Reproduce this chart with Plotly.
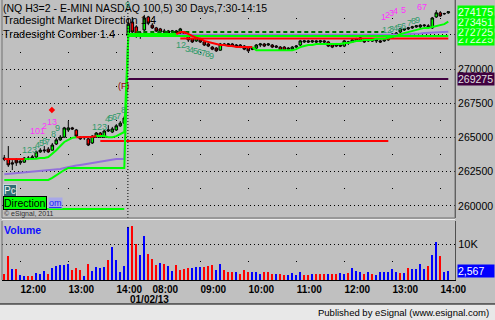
import plotly.graph_objects as go

# ---------------- data ----------------
day1_start, day1_bars = (11, 40), 31
day2_start, day2_bars = (7, 30), 81

def session(start, n):
    h, m = start
    out = []
    for k in range(n):
        t = h * 60 + m + 5 * k
        out.append("%02d:%02d" % (t // 60, t % 60))
    return out

times = session(day1_start, day1_bars) + session(day2_start, day2_bars)
idx = list(range(len(times)))
hour_idx = [i for i, t in enumerate(times) if t.endswith(":00")]
hour_lbl = [times[i] for i in hour_idx]
date2_label = "01/02/13"

opens = [263500,263425,263150,263350,263150,263200,263500,263500,263575,263950,
         264025,264150,264075,264525,264825,265025,265550,265700,265550,265025,
         264975,264900,264600,265025,265325,265025,265475,265400,265550,265850,
         266050,
         272400,273425,273075,272625,272850,273800,273200,273000,272925,272775,
         272775,272700,272775,272625,272700,272475,272200,272050,272200,271975,
         271825,271600,271525,271375,271825,271750,271825,271750,271750,271675,
         271600,271525,271525,271750,271825,271750,271750,271675,271600,271600,
         271525,271450,271600,271750,271975,272050,271975,272050,271975,272050,
         271975,271825,271825,271750,271675,271900,271975,272050,272050,272125,
         272050,272125,272050,272050,272050,272125,272325,272475,272700,272850,
         272925,273000,273075,273075,273150,273150,273000,273800,274100,274025,
         274100]
highs = [263725,264375,263350,263500,263425,263575,263650,263725,264025,264225,
         264375,264300,264600,264975,265175,265775,266200,265775,265625,265100,
         265100,264975,265175,265400,265400,265550,265900,265775,265975,266200,
         266575,
         273725,273800,273200,272775,273950,273875,273350,273075,273000,272925,
         272850,272850,272850,273000,272775,272550,272275,272325,272275,272050,
         271900,271675,271600,271900,271900,271900,271900,271825,271825,271750,
         271675,271600,271825,271900,271900,271900,271825,271750,271675,271675,
         271600,271675,271750,272125,272125,272125,272125,272125,272125,272125,
         272050,271900,271900,271900,272125,272050,272200,272275,272325,272200,
         272200,272200,272200,272125,272200,272400,272625,272700,273000,273000,
         273075,273150,273200,273275,273275,273275,273800,274300,274225,274100,
         274175]
lows = [263275,262850,262625,262925,263000,263150,263350,263425,263500,263875,
        263875,263875,264025,264450,264750,264975,265400,265550,265025,264825,
        264825,264375,264525,264975,264975,264975,265400,265325,265475,265775,
        265975,
        272125,272625,272275,272200,272775,273200,272925,272700,272625,272625,
        272550,272550,272475,272550,272325,271975,271900,271975,271900,271675,
        271600,271375,271250,271325,271675,271675,271600,271600,271525,271375,
        271250,271375,271450,271600,271600,271675,271525,271525,271325,271325,
        271375,271375,271525,271675,271900,271900,271900,271900,271900,271900,
        271600,271525,271600,271600,271600,271750,271900,271975,271975,271900,
        271975,271975,271900,271900,271975,272050,272275,272400,272625,272775,
        272850,272925,273000,273000,273075,273000,272925,273725,273800,273950,
        274025]
closes = [263425,263000,263075,263150,263275,263500,263475,263575,263950,264075,
          264075,263950,264450,264825,265025,265700,265700,265625,265100,264900,
          265025,264450,265100,265325,265025,265475,265550,265625,265850,266050,
          266425,
          273275,272700,272475,272400,273725,273350,273000,272775,272700,272700,
          272625,272775,272625,272925,272400,272125,271975,272275,271975,271750,
          271675,271450,271325,271825,271750,271825,271675,271675,271600,271450,
          271325,271450,271750,271825,271675,271825,271600,271600,271375,271375,
          271450,271600,271675,272050,272050,271975,272050,271975,272050,271975,
          271675,271600,271675,271675,272050,271975,272125,272200,272275,271975,
          272125,272050,272125,271975,272125,272325,272550,272625,272925,272925,
          273000,273075,273150,273200,273200,273075,273725,274100,273875,274050,
          274175]

volume = [1580,6760,3060,3060,1390,1200,1020,1110,1950,1670,
          2500,1670,3250,3890,4080,4080,4360,2870,3430,2870,
          1200,4450,2500,3520,3430,3520,5650,9170,5470,2130,
          3890,
          14740,15010,9920,6950,12140,7140,5930,4170,4730,4540,
          3800,2590,4080,2690,2960,3240,3430,3520,3610,3520,
          3800,4080,2870,4540,2780,2320,2130,2130,1670,2870,
          2320,2130,2130,1580,2320,2320,1580,1580,1580,1390,
          1300,1950,1390,2130,1300,1300,1580,1760,1670,1670,
          1670,1580,1760,1860,1670,1950,3430,2500,2320,1760,
          2320,1580,1390,2130,2320,2220,3060,2220,2040,1950,
          3430,3060,3060,4360,3060,3800,6950,10660,6760,2130,
          2567]
vol_dir = ("rrbrbbrrbb" "brbbbbbrrr" "brbbbbrbbb" "b"
           "brrbbrrrbr" "bbrrrrbbbr" "rrbbrrrbrr" "rbbbrrrbrr"
           "bbbbrrbrrr" "brrbbrbbbr" "brbbbbbbrb" "rbbbbrbbrb" "b")

# Tradesight Comber trail (value and colour state g/r)
comber = [263425,263425,263425,263425,263425,263425,263425,263425,263450,263500,
          263500,263575,263800,264075,264375,264675,264825,264975,265025,265025,
          265025,265025,265050,265100,265100,265100,265025,265025,265100,265250,
          265400,
          272550,272550,272550,272550,272550,272550,272550,272550,272550,272550,
          272550,272550,272550,
          272700,272700,272550,272400,272275,272200,272050,271975,271900,271825,
          271750,271750,271675,271675,271600,271600,271600,271600,271600,
          271375,271375,271375,271375,271375,271375,271325,271325,271325,271375,
          271450,271600,271675,271750,271750,271825,271825,271825,271825,271825,
          271825,271825,271900,271900,271975,272050,272050,272125,272125,272125,
          272200,272200,272200,272275,272325,272400,272550,272625,272700,272775,
          272850,272925,273000,273000,273075,273150,273225,273275,273451]
comber_state = ("rrrrrr" "ggggggggggggg" "rrrrr" "ggggggg"
                "ggggggggggggg" "rrrrrrrrrrrrrrrrrrr" + "g" * 49)

purple = [262325,262350,262375,262400,262425,262450,262475,262500,262525,262550,
          262575,262600,262625,262650,262700,262775,262850,262900,262950,263000,
          263050,263100,263125,263175,263225,263275,263325,263375,263425,263425,
          263425] + [272475] * 67 + [272500,272500,272525,272550,272550,272575,
          272600,272625,272650,272675,272700,272700,272725,272725]
lower_green = [261900] * 12 + [262050,262250,262400,262625] + [262775] * 15 + [272400] * 81
dashed_level = 272700
dashed_span = (33, 95)
red_level = 272225
red_span = (44, 111)
prior_level = 264750
prior_span = (24, 96)
f_level = 269275
f_span = (31, 111)
dir_level = 259775
dir_span = (0, 30)

# Comber counts (bar index, price, text, colour key)
counts = [(6.2, 264075, "123", "t"), (8.2, 264450, "4", "t"), (9.2, 264600, "5", "t"),
          (10.0, 264750, "6", "t"), (10.9, 264650, "7", "t"), (12.2, 265250, "8", "t"),
          (13.4, 265700, "9", "t"),
          (8.2, 265475, "101", "m"), (10.1, 265850, "2", "m"), (11.9, 266125, "13", "m"),
          (23.9, 265775, "123", "t"), (25.7, 266350, "4", "t"), (26.6, 266425, "5", "t"),
          (27.5, 266500, "6", "t"), (28.5, 266575, "7", "t"), (29.7, 267000, "8", "t"),
          (30.9, 274675, "9", "t"),
          (44.2, 271750, "12", "t"), (45.7, 271450, "3", "t"), (46.7, 271375, "4", "t"),
          (47.7, 271325, "5", "t"), (48.7, 271250, "6", "t"), (49.7, 271175, "7", "t"),
          (50.7, 271100, "8", "t"), (51.9, 270950, "9", "t"),
          (94.9, 273800, "1", "m"), (95.9, 273950, "2", "m"), (96.9, 274100, "3", "m"),
          (97.9, 274225, "4", "m"), (99.9, 274300, "5", "m"), (104.4, 274525, "67", "m"),
          (95.7, 272850, "12", "t"), (96.9, 272925, "3", "t"), (97.9, 273000, "4", "t"),
          (98.9, 273075, "5", "t"), (99.9, 273150, "6", "t"), (101.2, 273350, "7", "t"),
          (102.2, 273500, "8", "t"), (103.2, 273575, "9", "t")]
signal_dot = (11.9, 267000)
f_mark = (29.9, 268750, "(F)")

price_ticks = [260000, 262500, 265000, 267500, 270000, 272500, 275000]
price_tick_text = ["260000", "262500", "265000", "267500", "270000", "", ""]
right_boxes = [(272225, "272225", "#00ff00", "#e8ffe8"), (272725, "272725", "#00ff00", "#e8ffe8"),
               (273451, "273451", "#00ff00", "#e8ffe8"), (274175, "274175", "#00ff00", "#f0fff0"),
               (f_level, "269275", "#400040", "#e0e0e0")]
last_volume_label = "2,567"

# ---------------- figure ----------------
FONT = "Liberation Sans, Arial, sans-serif"
PL, PW, PH = 2, 453, 280

def pxx(x):
    return (x - PL) / PW

def pyy(y):
    return 1 - y / PH

fig = go.Figure()

def span_series(level, span):
    return [level if span[0] <= i <= span[1] else None for i in idx]

# level lines
fig.add_trace(go.Scatter(x=idx, y=span_series(dir_level, dir_span), mode="lines",
                         line=dict(color="#00ff00", width=2), hoverinfo="skip"))
fig.add_trace(go.Scatter(x=idx, y=span_series(prior_level, prior_span), mode="lines",
                         line=dict(color="#ff0000", width=2), hoverinfo="skip"))
fig.add_trace(go.Scatter(x=idx, y=span_series(f_level, f_span) , mode="lines",
                         line=dict(color="#400040", width=2), hoverinfo="skip"))
fig.add_trace(go.Scatter(x=idx, y=purple, mode="lines",
                         line=dict(color="#9370db", width=2), hoverinfo="skip"))
fig.add_trace(go.Scatter(x=idx, y=lower_green, mode="lines",
                         line=dict(color="#00ff00", width=2), hoverinfo="skip"))
fig.add_trace(go.Scatter(x=idx, y=span_series(dashed_level, dashed_span), mode="lines",
                         line=dict(color="#007000", width=2, dash="4px,3px"), hoverinfo="skip"))
fig.add_trace(go.Scatter(x=idx, y=span_series(red_level, red_span), mode="lines",
                         line=dict(color="#ff0000", width=2), hoverinfo="skip"))

g_vals, r_vals = [], []
for i, v in enumerate(comber):
    s = comber_state[i]
    nxt = comber_state[i + 1] if i + 1 < len(comber) else s
    g_vals.append(v if (s == "g" or nxt == "g") else None)
    r_vals.append(v if (s == "r" or nxt == "r") else None)
fig.add_trace(go.Scatter(x=idx, y=g_vals, mode="lines", line=dict(color="#00ff00", width=2), hoverinfo="skip"))
fig.add_trace(go.Scatter(x=idx, y=r_vals, mode="lines", line=dict(color="#ff0000", width=2), hoverinfo="skip"))

fig.add_trace(go.Candlestick(
    x=idx, open=opens, high=highs, low=lows, close=closes,
    increasing=dict(fillcolor="#00ff00", line=dict(color="black", width=1)),
    decreasing=dict(fillcolor="#ff0000", line=dict(color="black", width=1)),
    whiskerwidth=0, hoverinfo="skip"))

fig.add_trace(go.Scatter(x=[signal_dot[0]], y=[signal_dot[1]], mode="markers",
                         marker=dict(symbol="diamond", size=5, color="#ff0000"), hoverinfo="skip"))

fig.add_trace(go.Bar(x=idx, y=volume, width=0.3, xaxis="x2", yaxis="y2",
                     marker=dict(color=["#0000ff" if d == "b" else "#ff0000" for d in vol_dir],
                                 line=dict(width=0)), hoverinfo="skip"))

price_dom = [1 - 218 / PH, 1]
vol_dom = [0, 59 / PH]
y_top, y_bot = 275037, 259123

fig.update_layout(
    width=495, height=320, margin=dict(l=PL, r=495 - PL - PW, t=0, b=320 - PH),
    paper_bgcolor="#c0c0c0", plot_bgcolor="#c0c0c0", showlegend=False,
    font=dict(family=FONT, color="black"), bargap=0, boxgap=0.08,
    xaxis=dict(domain=[0, 1], range=[-0.575, 112.675], anchor="y", showticklabels=False,
               tickvals=hour_idx, ticks="", showgrid=True, gridcolor="black", gridwidth=1,
               griddash="0px,18px,1px,15px", zeroline=False, rangeslider=dict(visible=False),
               showline=False),
    xaxis2=dict(domain=[0, 1], matches="x", anchor="y2", tickvals=hour_idx,
                ticktext=["<b>%s</b>" % t for t in hour_lbl], ticks="", ticklabelshift=13,
                ticklabelstandoff=0,
                tickfont=dict(size=10, family=FONT, color="black"), showgrid=True,
                gridcolor="black", griddash="0px,40px,1px,100px", zeroline=False,
                showline=True, linecolor="black", linewidth=1),
    yaxis=dict(domain=price_dom, range=[y_bot, y_top], side="right", anchor="x",
               tickvals=price_ticks, ticktext=price_tick_text, ticks="",
               tickfont=dict(size=10.5, family=FONT, color="black"),
               showgrid=True, gridcolor="black", griddash="1px,3px", zeroline=False,
               showline=True, linecolor="#505050", linewidth=1),
    yaxis2=dict(domain=vol_dom, range=[0, 16389], side="right", anchor="x2",
                tickvals=[10000], ticktext=["10K"], ticks="",
                tickfont=dict(size=11, family=FONT, color="black"),
                showgrid=True, gridcolor="black", griddash="1px,3px", zeroline=False,
                showline=True, linecolor="#505050", linewidth=1),
)

sep = day1_bars - 0.1
shapes = [
    dict(type="line", xref="x", yref="y domain", x0=sep, x1=sep, y0=0, y1=1,
         line=dict(color="black", width=1, dash="1px,2px")),
    dict(type="line", xref="x", yref="y2 domain", x0=sep, x1=sep, y0=0.88, y1=0.9,
         line=dict(color="black", width=1)),
    dict(type="rect", xref="paper", yref="paper", x0=0, x1=1, y0=price_dom[0], y1=1.01,
         line=dict(color="#707070", width=1)),
    dict(type="line", xref="paper", yref="paper", x0=0, x1=1, y0=pyy(219.5), y1=pyy(219.5),
         line=dict(color="#f0f0f0", width=1)),
    dict(type="line", xref="paper", yref="paper", x0=0, x1=0, y0=0, y1=vol_dom[1],
         line=dict(color="#707070", width=1)),
    dict(type="rect", xref="paper", yref="paper", x0=pxx(-1), x1=pxx(496), y0=pyy(304), y1=pyy(321),
         fillcolor="#e8e8e8", line=dict(width=0), layer="above"),
    dict(type="line", xref="paper", yref="paper", x0=pxx(-1), x1=pxx(496), y0=pyy(304), y1=pyy(304),
         line=dict(color="black", width=1)),
]
fig.update_layout(shapes=shapes)

ann = []
def text(x, y, s, size=11, color="black", anchor="left", bold=False, **kw):
    ann.append(dict(xref="paper", yref="paper", x=pxx(x), y=pyy(y), text=("<b>%s</b>" % s) if bold else s,
                    showarrow=False, xanchor=anchor, yanchor="middle",
                    font=dict(size=size, color=color, family=FONT), **kw))

text(1, 8, "(NQ H3=2 - E-MINI NASDAQ 100,5) 30 Days,7:30-14:15", size=10.5)
text(1, 20, "Tradesight Market Direction 1.4", size=11)
text(1, 34, "Tradesight Comber 1.4", size=11)
text(3, 190.5, "Pc", size=10, color="#f0f0f0", bgcolor="#2f6f74", bordercolor="#c8d8d8",
     borderwidth=1, borderpad=0)
text(48, 203, "<u>om</u>", size=9, color="#2020ff", bgcolor="#a8a8e8", borderpad=0)
text(3, 202.5, "Direction", size=10.5, color="black", bgcolor="#00ff00", bordercolor="black",
     borderwidth=1, borderpad=0)
text(2, 214, "© eSignal, 2011", size=7, color="#303030")
text(2, 230, "Volume", size=10.5, color="#1010ff", bold=True)
text(491, 312.5, "Published by eSignal (www.esignal.com)", size=9.5, anchor="right")

colors = {"t": "#2f9a6a", "m": "#ff30ff"}
for xi, p, s, c in counts:
    ann.append(dict(x=xi, y=p, xref="x", yref="y", text=s, showarrow=False,
                    font=dict(size=9, color=colors[c], family=FONT)))
ann.append(dict(x=f_mark[0], y=f_mark[1], xref="x", yref="y", text=f_mark[2], showarrow=False,
                font=dict(size=9, color="#900000", family=FONT)))
ann.append(dict(x=sep, y=pyy(299), xref="x", yref="paper", text="<b>%s</b>" % date2_label,
                showarrow=False, xanchor="left", yanchor="middle",
                font=dict(size=10, color="black", family=FONT)))

for val, s, bg, fg in right_boxes:
    ann.append(dict(x=1, y=val, xref="paper", yref="y", text=s, showarrow=False,
                    xanchor="left", xshift=2, yanchor="middle", width=36, align="left",
                    bgcolor=bg, borderpad=0, font=dict(size=10.5, color=fg, family=FONT)))
ann.append(dict(x=1, y=volume[-1], xref="paper", yref="y2", text=last_volume_label,
                showarrow=False, xanchor="left", xshift=2, yanchor="middle", width=36,
                align="left", bgcolor="#0000ff", borderpad=0,
                font=dict(size=10.5, color="white", family=FONT)))
fig.update_layout(annotations=ann)

fig.write_html("out.html")
